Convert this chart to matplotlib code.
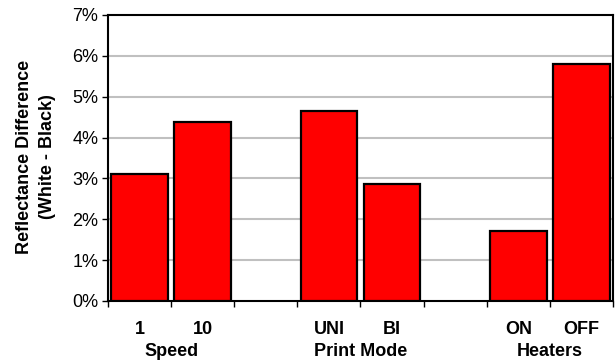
import matplotlib
matplotlib.use("Agg")
import matplotlib.pyplot as plt
from matplotlib.ticker import FuncFormatter

categories = ["1", "10", "", "UNI", "BI", "", "ON", "OFF"]
values = [3.12, 4.37, None, 4.65, 2.86, None, 1.71, 5.79]
groups = ["Speed", "Print Mode", "Heaters"]
group_centers = [0.5, 3.5, 6.5]

plt.rcParams['font.family'] = ['Liberation Sans', 'DejaVu Sans']

fig = plt.figure(figsize=(6.15, 3.64), dpi=100)
ax = fig.add_axes([0.1756, 0.1731, 0.8211, 0.7857])

xs = [i for i, v in enumerate(values) if v is not None]
vs = [v for v in values if v is not None]
ax.bar(xs, vs, width=0.9, color="#ff0000", edgecolor="black", linewidth=1.6, zorder=3)

ax.set_xlim(-0.5, len(categories) - 0.5)
ax.set_ylim(0, 7)
ax.set_yticks(range(0, 8))
ax.yaxis.set_major_formatter(FuncFormatter(lambda v, p: f"{int(v)}%"))
ax.tick_params(axis='y', labelsize=13, length=4, width=1, direction='out', pad=3)
for y in range(1, 7):
    ax.axhline(y, color="#c0c0c0", linewidth=1.5, zorder=1)

ax.set_xticks([i - 0.5 for i in range(len(categories) + 1)])
ax.set_xticklabels([])
ax.tick_params(axis='x', length=4, width=1, direction='out')

for i, c in enumerate(categories):
    if c:
        ax.text(i, -0.71, c, ha='center', va='center', fontsize=13, fontweight='bold',
                transform=ax.transData, clip_on=False)
for g, gc in zip(groups, group_centers):
    ax.text(gc, -1.24, g, ha='center', va='center', fontsize=13, fontweight='bold',
            transform=ax.transData, clip_on=False)

for s in ax.spines.values():
    s.set_color("black")
    s.set_linewidth(1.5)

fig.text(0.058, 0.569, "Reflectance Difference\n(White - Black)", rotation=90,
         ha='center', va='center', fontsize=13, fontweight='bold', linespacing=1.45)

fig.savefig("out.png", dpi=100)
